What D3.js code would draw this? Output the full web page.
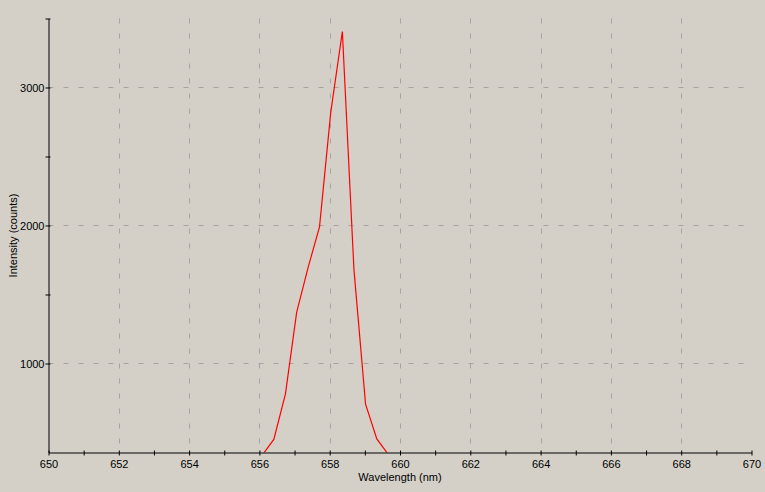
<!DOCTYPE html>
<html>
<head>
<meta charset="utf-8">
<script src="https://cdn.jsdelivr.net/npm/d3@7"></script>
<style>
	body { margin: 0; background: #d4d0c8; }
	svg { display: block; color: #000; }
	text { font-family: "Liberation Sans", Arial, sans-serif; font-size: 11px; fill: #000; }
</style>
</head>
<body>
<svg id="chart" width="765" height="492"></svg>
<script>

//spectrum readings (nm, counts)
var wavelengths = [656.08, 656.41, 656.74, 657.06, 657.39, 657.71, 658.03, 658.36, 658.69, 659.02, 659.34, 659.67];
var counts = [335, 450, 778, 1370, 1700, 1990, 2820, 3406, 1680, 706, 453, 340];

//axis ticks
var xTicks = [650, 651, 652, 653, 654, 655, 656, 657, 658, 659, 660, 661, 662, 663, 664, 665, 666, 667, 668, 669, 670];
var xGrid = [652, 654, 656, 658, 660, 662, 664, 666, 668];
var yLabelTicks = [1000, 2000, 3000];
var yMinorTicks = [1500, 2500, 3500];

var xDomain = [650, 670];
var yDomain = [355, 3500];

var svg = d3.select("#chart");

//LAYOUT (window.top is taken, so plot* names)
var plotLeft = 48.5, plotRight = 751.5, plotTop = 18.5, plotBottom = 452.5;

var xScale = d3.scaleLinear()
	.domain(xDomain)
	.range([plotLeft, plotRight]);

var yScale = d3.scaleLinear()
	.domain(yDomain)
	.range([plotBottom, plotTop]);

//grid
svg.append("g")
	.selectAll("line")
	.data(xGrid)
	.enter()
	.append("line")
	.attr("x1", d => Math.round(xScale(d)) + 0.5)
	.attr("x2", d => Math.round(xScale(d)) + 0.5)
	.attr("y1", plotTop)
	.attr("y2", plotBottom)
	.attr("stroke", "#a4a4a4")
	.attr("stroke-dasharray", "5,10");

svg.append("g")
	.selectAll("line")
	.data(yLabelTicks)
	.enter()
	.append("line")
	.attr("x1", plotLeft)
	.attr("x2", plotRight)
	.attr("y1", d => Math.round(yScale(d)) + 0.5)
	.attr("y2", d => Math.round(yScale(d)) + 0.5)
	.attr("stroke", "#a4a4a4")
	.attr("stroke-dasharray", "5,10");

//the spectrum, clipped to the plot area
svg.append("clipPath")
	.attr("id", "plotclip")
	.append("rect")
	.attr("x", plotLeft)
	.attr("y", plotTop)
	.attr("width", plotRight - plotLeft)
	.attr("height", plotBottom - plotTop);

var line = d3.line()
	.x((d, i) => xScale(wavelengths[i]))
	.y((d, i) => yScale(counts[i]));

svg.append("path")
	.datum(counts)
	.attr("clip-path", "url(#plotclip)")
	.attr("d", line)
	.attr("fill", "none")
	.attr("stroke", "#ff0000")
	.attr("stroke-width", 1.2);

//x axis
var xAxis = d3.axisBottom()
	.scale(xScale)
	.tickValues(xTicks)
	.tickSizeOuter(0)
	.tickFormat(d => (d % 2 === 0) ? d : "");

var gx = svg.append("g")
	.attr("transform", "translate(0," + plotBottom + ")")
	.call(xAxis);

gx.select(".domain").attr("stroke", "#000");
gx.selectAll(".tick line").attr("y1", -2).attr("y2", 3).attr("stroke", "#000");
gx.selectAll(".tick text")
	.attr("y", 15)
	.attr("dy", 0)
	.attr("fill", "#000")
	.style("font-size", "11px")
	.style("font-family", "Liberation Sans, Arial, sans-serif");

//y axis
var yAxis = d3.axisLeft()
	.scale(yScale)
	.tickValues(yLabelTicks.concat(yMinorTicks))
	.tickSizeOuter(0)
	.tickFormat(d => (yLabelTicks.indexOf(d) >= 0) ? d : "");

var gy = svg.append("g")
	.attr("transform", "translate(" + plotLeft + ",0)")
	.call(yAxis);

gy.select(".domain").attr("stroke", "#000");
gy.selectAll(".tick line").attr("x1", 2).attr("x2", -3).attr("stroke", "#000");
gy.selectAll(".tick text")
	.attr("x", -4)
	.attr("fill", "#000")
	.style("font-size", "11px")
	.style("font-family", "Liberation Sans, Arial, sans-serif");

//titles
svg.append("text")
	.attr("x", (plotLeft + plotRight) / 2)
	.attr("y", 481)
	.attr("text-anchor", "middle")
	.text("Wavelength (nm)");

svg.append("text")
	.attr("transform", "translate(17," + ((plotTop + plotBottom) / 2) + ") rotate(-90)")
	.attr("text-anchor", "middle")
	.text("Intensity (counts)");

</script>
</body>
</html>
